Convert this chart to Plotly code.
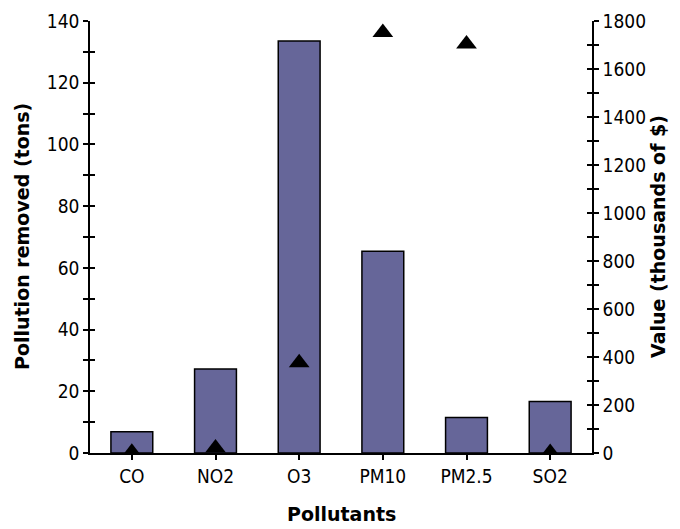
import plotly.graph_objects as go

pollutants = ["CO", "NO2", "O3", "PM10", "PM2.5", "SO2"]
removed_tons = [6.9, 27.2, 133.5, 65.4, 11.5, 16.7]
value_thousands = [3, 21, 376, 1752, 1704, 2]

left_ticks = [0, 20, 40, 60, 80, 100, 120, 140]
right_ticks = [0, 200, 400, 600, 800, 1000, 1200, 1400, 1600, 1800]

TICK_FONT = dict(family="DejaVu Sans Condensed, Liberation Sans Narrow, Liberation Sans, Arial", size=19, color="black")
TITLE_FONT = dict(family="DejaVu Sans, Arial", size=19, color="black", weight="bold")

fig = go.Figure()
fig.add_trace(go.Bar(
    x=pollutants, y=removed_tons, yaxis="y",
    marker=dict(color="#666699", line=dict(color="black", width=1.5)),
    width=0.5, showlegend=False,
))
fig.add_trace(go.Scatter(
    x=pollutants, y=value_thousands, yaxis="y2", mode="markers",
    marker=dict(symbol="triangle-up", size=18, color="black"),
    showlegend=False,
))

common_y = dict(showgrid=False, zeroline=False, showline=True, linecolor="black", linewidth=1.5,
                tickcolor="black", tickwidth=1.5, ticklen=5, automargin=False)

# page body has an 8px margin, so the figure is sized/placed to compensate
fig.update_layout(
    width=672, height=521,
    margin=dict(l=82, r=88, t=13, b=76, autoexpand=False),
    paper_bgcolor="white", plot_bgcolor="white",
    xaxis=dict(showgrid=False, showline=True, linecolor="black", linewidth=1.5,
               ticks="outside", ticklen=5, tickcolor="black", tickwidth=1.5, automargin=False,
               tickfont=TICK_FONT, range=[-0.5, 5.5]),
    yaxis=dict(range=[0, 140], tickvals=left_ticks, ticks="outside", tickfont=TICK_FONT,
               minor=dict(dtick=10, ticks="outside", ticklen=5, tickcolor="black", tickwidth=1.5),
               **common_y),
    yaxis3=dict(range=[0, 140], overlaying="y", side="left", tickvals=left_ticks, ticks="inside",
                showticklabels=False,
                minor=dict(dtick=10, ticks="inside", ticklen=5, tickcolor="black", tickwidth=1.5),
                **common_y),
    yaxis2=dict(range=[0, 1800], overlaying="y", side="right", tickvals=right_ticks, ticks="outside",
                tickfont=TICK_FONT,
                minor=dict(dtick=100, ticks="outside", ticklen=5, tickcolor="black", tickwidth=1.5),
                **common_y),
    yaxis4=dict(range=[0, 1800], overlaying="y", side="right", tickvals=right_ticks, ticks="inside",
                showticklabels=False,
                minor=dict(dtick=100, ticks="inside", ticklen=5, tickcolor="black", tickwidth=1.5),
                **common_y),
    annotations=[
        dict(text="Pollution removed (tons)", xref="paper", yref="paper", x=0, y=0.5,
             xanchor="center", yanchor="middle", xshift=-68, textangle=-90,
             showarrow=False, font=TITLE_FONT),
        dict(text="Value (thousands of $)", xref="paper", yref="paper", x=1, y=0.5,
             xanchor="center", yanchor="middle", xshift=66, textangle=-90,
             showarrow=False, font=TITLE_FONT),
        dict(text="Pollutants", xref="paper", yref="paper", x=0.5, y=0,
             xanchor="center", yanchor="middle", yshift=-61,
             showarrow=False, font=TITLE_FONT),
    ],
)
# dummy traces so the overlay axes render
fig.add_trace(go.Scatter(x=[None], y=[None], yaxis="y3", showlegend=False, hoverinfo="skip"))
fig.add_trace(go.Scatter(x=[None], y=[None], yaxis="y4", showlegend=False, hoverinfo="skip"))

fig.write_html("out.html")
